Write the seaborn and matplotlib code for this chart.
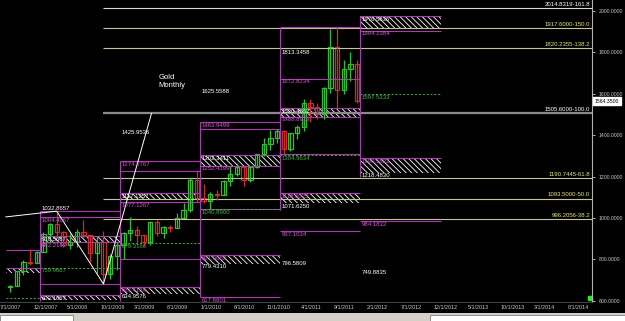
import numpy as np
import pandas as pd
import matplotlib
matplotlib.use('Agg')
import matplotlib.pyplot as plt
from matplotlib.patches import Rectangle
import seaborn as sns

# monthly gold candles, month index counted from Jan 2007 (0 = 1/1/2007)
month = list(range(7, 60))
opens = [665, 672, 743, 789, 783, 834, 923, 971, 933, 871, 885, 930, 918, 833, 884, 730, 814,
         869, 927, 942, 916, 883, 979, 927, 955, 953, 1001, 1040, 1182,
         1096, 1081, 1118, 1113, 1180, 1212, 1244, 1181, 1248, 1307, 1357, 1384,
         1421, 1333, 1409, 1439, 1556, 1536, 1500, 1628, 1828, 1620, 1722, 1746]
highs = [675, 745, 795, 848, 838, 932, 975, 1033, 935, 928, 945, 988, 920, 912, 936, 825, 885,
         930, 1006, 962, 917, 982, 990, 960, 966, 1025, 1070, 1195, 1227,
         1162, 1127, 1135, 1181, 1249, 1265, 1245, 1251, 1311, 1388, 1424, 1431,
         1424, 1411, 1447, 1575, 1577, 1553, 1632, 1913, 1921, 1765, 1803, 1764]
lows = [642, 670, 725, 775, 780, 834, 885, 910, 862, 850, 860, 905, 786, 736, 681, 705, 747,
        802, 891, 867, 865, 867, 913, 905, 930, 950, 1000, 1030, 1075,
        1072, 1045, 1088, 1112, 1156, 1204, 1155, 1175, 1243, 1300, 1330, 1360,
        1309, 1325, 1381, 1420, 1462, 1477, 1478, 1605, 1532, 1600, 1662, 1555]
closes = [672, 743, 789, 783, 834, 923, 971, 933, 871, 885, 930, 918, 833, 884, 730, 814, 869,
          927, 942, 916, 883, 979, 927, 955, 953, 1001, 1040, 1182, 1096,
          1081, 1118, 1113, 1180, 1212, 1244, 1181, 1248, 1307, 1357, 1384, 1421,
          1333, 1409, 1439, 1556, 1536, 1500, 1628, 1828, 1620, 1722, 1746, 1564.35]
last_price = 1564.35

# yearly sections
seg_start = [6.85, 12, 24, 36, 48, 60]
seg_end = [12, 24, 36, 48, 60, 72]

# magenta levels
mag_seg = [0, 1, 1, 1, 1, 2, 2, 2, 2, 3, 3, 3, 3, 3, 4, 4, 4, 4, 4, 5, 5]
mag_val = [845, 1032.8657, 1004.4667, 882.2167, 681,
           1274.8767, 1227, 1077.1267, 802,
           1463.9499, 1431, 1252.4199, 1045, 617.8801,
           1921, 1672.8234, 1488.8913, 1309, 937.1034,
           1904.2384, 984.1832]
mag_lab = ['', '', '1004.4667', '882.2167', '',
           '1274.8767', '', '1077.1267', '',
           '1463.9499', '', '1252.4199', '', '617.8801',
           '', '1672.8234', '1488.8913', '', '937.1034',
           '1904.2384', '984.1832']

# hatched zones
hat_seg = [0, 1, 1, 2, 2, 3, 3, 4, 4, 5, 5]
hat_lo = [735, 882.2, 603.2, 1093, 635, 1252.4, 779.4, 1488.9, 1071.6, 1917, 1218.5]
hat_hi = [758, 910.6, 627, 1121, 667, 1302.3, 821, 1530.4, 1121, 1976.6, 1290]
hat_lab = ['', '910.5667', '603.1657', '1117.1257', '667.4134', '1302.3411', '821.9052',
           '1530.4502', '1118.6025', '1976.5836', '1290.5822']
hat_col = ['w', 'w', 'w', 'w', 'm', 'w', 'm', 'w', 'm', 'w', 'm']

# dashed green levels
grn_seg = [0, 1, 2, 3, 4, 5]
grn_val = [614, 759.9667, 879.3166, 1040.8900, 1304.9634, 1597.5333]

# plain white labels
wht_seg = [2, 2, 3, 3, 4, 4, 4, 5, 5]
wht_val = [1425.9536, 634.9576, 1625.5588, 779.4310, 1813.3458, 1071.6250, 796.5809, 1218.4830, 749.8835]

# section separators
sep_m = [12, 24, 36, 48, 60]
sep_hi = [1033, 1275, 1464, 1921, 1976]
sep_lo = [600, 600, 618, 1040, 1200]

# fibonacci projection
fib_val = [2014.8319, 1917.6000, 1820.2355, 1505.6000, 1190.7445, 1093.5000, 996.2056]
fib_pct = ['161.8', '150.0', '138.2', '100.0', '61.8', '50.0', '38.2']
fib_start = 21.5
zig_x = [6.85, 14.5, 21.5, 28.7]
zig_y = [1005, 1032.87, 681, 1505.6]

xtick_m = [6, 11, 16, 21, 26, 31, 36, 41, 46, 51, 56, 61, 66, 71, 76, 81, 86, 91]
xtick_lab = ['7/1/2007', '12/1/2007', '5/1/2008', '10/1/2008', '3/1/2009', '8/1/2009',
             '1/1/2010', '6/1/2010', '11/1/2010', '4/1/2011', '9/1/2011', '2/1/2012',
             '7/1/2012', '12/1/2012', '5/1/2013', '10/1/2013', '3/1/2014', '8/1/2014']
ytick_val = [600, 800, 1000, 1200, 1400, 1600, 1800, 2000]

sns.set_theme(style='dark', rc={'axes.facecolor': 'black', 'figure.facecolor': 'black',
                                'hatch.linewidth': 0.6, 'hatch.color': 'white'})
plt.rcParams['font.family'] = ['Liberation Sans', 'DejaVu Sans']

MAG = '#a83cb0'
MAGT = '#d454d4'
GRN = '#3fb43f'
FS = 4.3

fig = plt.figure(figsize=(6.25, 3.21), dpi=100)
ax = fig.add_axes([0, 19 / 321, 592 / 625, 302 / 321])
ax.set_xlim(6.85, 94.68)
ax.set_ylim(594, 2053)


def lab(x, y, s, c, va='top', dy=-0.5):
    ax.annotate(s, (x, y), xytext=(1, dy), textcoords='offset points', color=c,
                fontsize=FS, va=va, ha='left', annotation_clip=False)


# fib lines
for v, p in zip(fib_val, fib_pct):
    if p == '161.8':
        c, tc, lw = '#d8d8d8', 'white', 0.8
    elif p == '100.0':
        c, tc, lw = '#8a8a8a', 'white', 1.6
    else:
        c, tc, lw = '#c8c49a', '#e6e67a', 0.8
    ax.hlines(v, fib_start, 94.68, colors=c, linewidth=lw)
    ax.annotate(f'{v:.4f}-{p}', (94.4, v), xytext=(0, 0.8), textcoords='offset points',
                color=tc, fontsize=FS, ha='right', va='bottom')

# hatched zones
for s, lo, hi, t, c in zip(hat_seg, hat_lo, hat_hi, hat_lab, hat_col):
    x0, x1 = seg_start[s], seg_end[s]
    ax.fill_between([x0, x1], lo, hi, facecolor='black', edgecolor='white',
                    hatch='\\\\\\\\\\\\', linewidth=0)
    ax.hlines(hi, x0, x1, colors=MAG, linewidth=0.8)
    if t:
        lab(x0, hi, t, 'white' if c == 'w' else MAGT)

# magenta levels
for s, v, t in zip(mag_seg, mag_val, mag_lab):
    ax.hlines(v, seg_start[s], seg_end[s], colors=MAG, linewidth=0.8)
    if t:
        lab(seg_start[s], v, t, MAGT)
lab(seg_start[1], mag_val[1], '1032.8657', 'white', va='bottom', dy=0.3)

# green dashed
for s, v in zip(grn_seg, grn_val):
    ax.hlines(v, seg_start[s], seg_end[s], colors=GRN, linewidth=0.7, linestyles=(0, (2, 2)))
    if s > 0:
        lab(seg_start[s], v, f'{v:.4f}', GRN)

for s, v in zip(wht_seg, wht_val):
    lab(seg_start[s], v, f'{v:.4f}', 'white')

ax.vlines(sep_m, sep_lo, sep_hi, colors=MAG, linewidth=0.8)

# candles
df = pd.DataFrame({'m': np.array(month) + 0.5, 'o': opens, 'h': highs, 'l': lows, 'c': closes})
df['col'] = np.where(df['c'] >= df['o'], '#2bc22b', '#d02a2a')
ax.vlines(df['m'], df['l'], df['h'], colors=df['col'], linewidth=0.9)
ax.bar(df['m'], (df['c'] - df['o']).abs().clip(lower=2), bottom=df[['o', 'c']].min(axis=1),
       width=0.65, facecolor='black', edgecolor=df['col'], linewidth=0.9)

# zigzag
sns.lineplot(x=zig_x, y=zig_y, sort=False, color='white', linewidth=0.7, ax=ax)
ax.text(29.7, 1695, 'Gold\nMonthly', color='white', fontsize=5.5, va='top', ha='left',
        linespacing=1.1)

# axes styling
ax.yaxis.tick_right()
ax.set_yticks(ytick_val)
ax.set_yticklabels([f'{v:.4f}' for v in ytick_val])
ax.tick_params(axis='y', colors='#c8c8c8', labelsize=3.7, length=2, width=0.6, pad=3)
ax.set_xticks(xtick_m)
ax.set_xticklabels(xtick_lab, ha='left')
ax.tick_params(axis='x', colors='#c8c8c8', labelsize=3.9, length=0, pad=2.5)
ax.grid(False)
for k in ['top', 'left']:
    ax.spines[k].set_visible(False)
ax.spines['right'].set_color('#b0b0b0')
ax.spines['right'].set_linewidth(0.8)
ax.spines['bottom'].set_color('#505050')
ax.spines['bottom'].set_linewidth(0.6)

ax.annotate(f'{last_price:.4f}', (1.0, last_price), xycoords=('axes fraction', 'data'),
            xytext=(2, 0), textcoords='offset points', fontsize=3.7, color='black',
            va='center', ha='left', annotation_clip=False,
            bbox=dict(boxstyle='square,pad=0.3', fc='white', ec='white'))
ax.plot([0.996], [0.012], marker='s', ms=3, color='#22ee22', transform=ax.transAxes, clip_on=False)

# window strip at bottom
fig.patches.append(Rectangle((0, 0), 1, 8 / 321, transform=fig.transFigure,
                             facecolor='#d4d0c8', edgecolor='none'))
fig.patches.append(Rectangle((0, 0), 73 / 625, 6 / 321, transform=fig.transFigure,
                             facecolor='white', edgecolor='#808080', linewidth=0.6))
fig.patches.append(Rectangle((430 / 625, 0), 195 / 625, 6 / 321, transform=fig.transFigure,
                             facecolor='white', edgecolor='#808080', linewidth=0.6))

fig.savefig('out.png', dpi=100, facecolor='black')
